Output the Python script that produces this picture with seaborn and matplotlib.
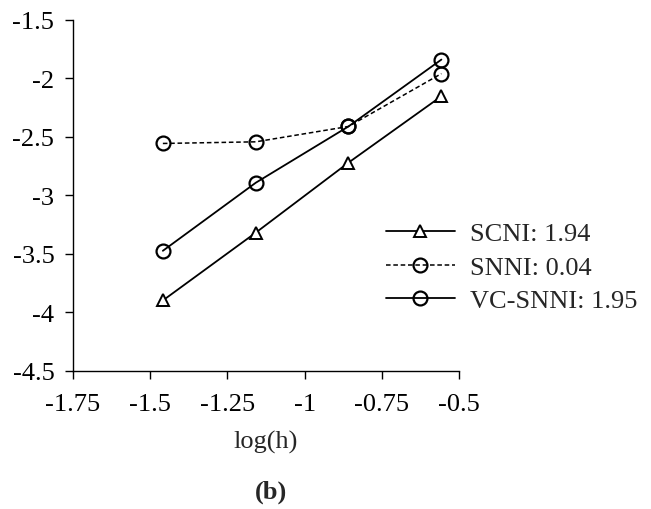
import matplotlib
matplotlib.use("Agg")
import matplotlib.pyplot as plt
import seaborn as sns
import pandas as pd

# convergence data
log_h = [-1.459, -1.158, -0.858, -0.557]
scni = [-3.898, -3.319, -2.722, -2.155]
snni = [-2.558, -2.544, -2.413, -1.962]
vc_snni = [-3.474, -2.893, -2.413, -1.842]

labels = ["SCNI: 1.94", "SNNI: 0.04", "VC-SNNI: 1.95"]
x_ticks = [-1.75, -1.5, -1.25, -1, -0.75, -0.5]
y_ticks = [-4.5, -4, -3.5, -3, -2.5, -2, -1.5]

sns.set_style("ticks")
plt.rcParams["font.family"] = ["Liberation Serif", "DejaVu Serif"]

df = pd.DataFrame({"log(h)": log_h, "SCNI": scni, "SNNI": snni, "VC-SNNI": vc_snni})

fig = plt.figure(figsize=(6.51, 5.10), dpi=100)
ax = fig.add_axes([73 / 651, 1 - 372 / 510, (459 - 73) / 651, (372 - 20.5) / 510])

sns.lineplot(data=df, x="log(h)", y="SCNI", ax=ax, color="black", lw=1.3,
             marker="^", markersize=8, markerfacecolor="white",
             markeredgecolor="black", markeredgewidth=1.4, label=labels[0])
sns.lineplot(data=df, x="log(h)", y="SNNI", ax=ax, color="black", lw=1.1,
             linestyle=(0, (3, 1.8)), marker="o", markersize=10,
             markerfacecolor="none", markeredgecolor="black",
             markeredgewidth=1.6, label=labels[1])
sns.lineplot(data=df, x="log(h)", y="VC-SNNI", ax=ax, color="black", lw=1.3,
             marker="o", markersize=10, markerfacecolor="none",
             markeredgecolor="black", markeredgewidth=1.6, label=labels[2])

ax.set_xlim(-1.75, -0.5)
ax.set_ylim(-4.5, -1.5)
ax.set_xticks(x_ticks)
ax.set_xticklabels([f"{t:g}" for t in x_ticks])
ax.set_yticks(y_ticks)
ax.set_yticklabels([f"{t:g}" for t in y_ticks])
ax.tick_params(labelsize=19, length=5.5, width=1, colors="black")
ax.tick_params(axis="x", pad=10)
ax.tick_params(axis="y", pad=8)
ax.set_xlabel("log(h)", fontsize=19)
ax.xaxis.set_label_coords(0.5, (372 - 431) / 351.5)
ax.set_ylabel("")
for s in ["top", "right"]:
    ax.spines[s].set_visible(False)
for s in ["left", "bottom"]:
    ax.spines[s].set_linewidth(1.0)
    ax.spines[s].set_color("black")
ax.patch.set_alpha(0)

ax.legend(loc="center left", bbox_to_anchor=(386 / 651, 1 - 268 / 510),
          bbox_transform=fig.transFigure, frameon=False, fontsize=19,
          borderpad=0, borderaxespad=0, handlelength=2.6, handletextpad=0.6,
          labelspacing=0.39)

fig.text(271 / 651, 1 - 492 / 510, "(b)", fontsize=19, fontweight="bold",
         ha="center", va="center")

fig.savefig("out.png", dpi=100)
